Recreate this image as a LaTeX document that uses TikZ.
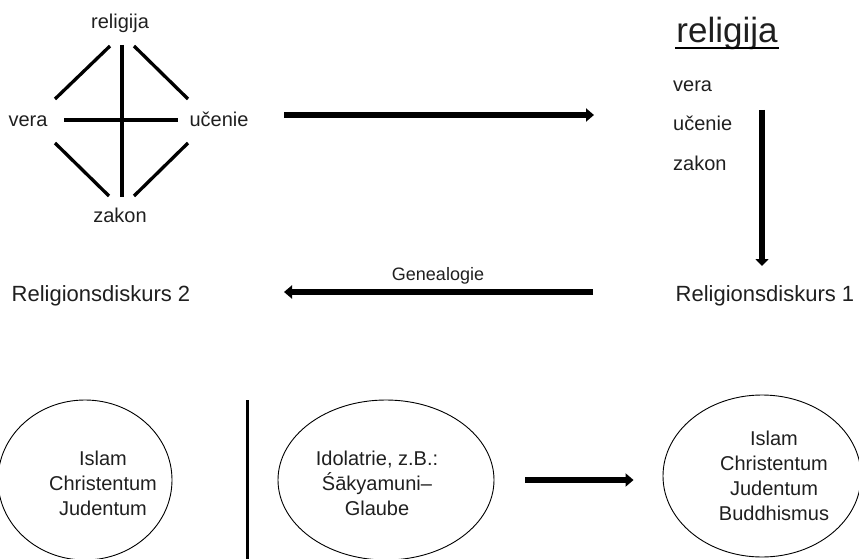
\documentclass[tikz,border=0pt]{standalone}
\usepackage{fontspec}
\setmainfont{Liberation Sans}
\usetikzlibrary{arrows.meta,shapes.geometric}
\begin{document}
\begin{tikzpicture}[x=1pt,y=-1pt,
  lbl/.style={font=\fontsize{20}{25}\selectfont, inner sep=0pt, anchor=base, text=black!88},
  big/.style={font=\fontsize{22}{26}\selectfont, inner sep=0pt, anchor=base, text=black!88},
  dline/.style={line width=3.3pt},
  bigarrow/.style={line width=6pt, -{Triangle[length=8pt,width=13pt]}},
  ell/.style={draw, ellipse, line width=0.9pt, inner sep=0pt}
]
\useasboundingbox (0,0) rectangle (859,559);

% left diamond
\node[lbl] (rel) at (120,29) {religija};
\node[lbl] (lvera) at (28,127) {vera};
\node[lbl] (lucenie) at (219,127) {učenie};
\node[lbl] (lzakon) at (120,222) {zakon};
\coordinate (ul1) at (110,46); \coordinate (ul2) at (55,99);
\coordinate (ur1) at (134,46); \coordinate (ur2) at (188,99);
\coordinate (ll1) at (55,143); \coordinate (ll2) at (109,196);
\coordinate (lr1) at (188,143); \coordinate (lr2) at (134,196);
\coordinate (vt) at (122,45); \coordinate (vb) at (122,197);
\coordinate (hl) at (64,120); \coordinate (hr) at (178,120);
\draw[dline] (ul1) -- (ul2);
\draw[dline] (ur1) -- (ur2);
\draw[dline] (ll1) -- (ll2);
\draw[dline] (lr1) -- (lr2);
\draw[dline] (vt) -- (vb);
\draw[dline] (hl) -- (hr);

% top arrow
\coordinate (ta1) at (284,115); \coordinate (ta2) at (594,115);
\draw[bigarrow] (ta1) -- (ta2);

% right column
\node[font=\fontsize{35}{40}\selectfont, inner sep=0pt, anchor=base, text=black!88] (head) at (727,43) {religija};
\coordinate (hu1) at (675,48); \coordinate (hu2) at (779,48);
\draw[line width=2.2pt] (hu1) -- (hu2);
\node[lbl, anchor=base west] (rvera) at (673,92) {vera};
\node[lbl, anchor=base west] (rucenie) at (673,131) {učenie};
\node[lbl, anchor=base west] (rzakon) at (673,170) {zakon};
\coordinate (va1) at (762,110); \coordinate (va2) at (762,266);
\draw[line width=6pt, -{Triangle[length=7pt,width=13pt]}] (va1) -- (va2);

% middle row
\node[big] (rd2) at (101,301) {Religionsdiskurs 2};
\node[big] (rd1) at (765,301) {Religionsdiskurs 1};
\node[font=\fontsize{18}{22}\selectfont, inner sep=0pt, anchor=base, text=black!88] (gen) at (438,280) {Genealogie};
\coordinate (ga1) at (593,292); \coordinate (ga2) at (284,292);
\draw[bigarrow] (ga1) -- (ga2);

% bottom row
\node[ell, minimum width=174pt, minimum height=160pt] (e1) at (85,480) {};
\node[lbl, align=center] (t1) at (103,515) {Islam\\Christentum\\Judentum};
\coordinate (d1) at (247,400); \coordinate (d2) at (247,562);
\draw[line width=3pt] (d1) -- (d2);
\node[ell, minimum width=216pt, minimum height=160pt] (e2) at (386,480) {};
\node[lbl, align=center] (t2) at (377,515) {Idolatrie, z.B.:\\Śākyamuni–\\Glaube};
\node[ell, minimum width=198pt, minimum height=162pt] (e3) at (762,476) {};
\node[lbl, align=center] (t3) at (774,520) {Islam\\Christentum\\Judentum\\Buddhismus};
\draw[bigarrow, shorten <=31pt, shorten >=29pt] (e2.east) -- (e3.west |- e2.east);
\end{tikzpicture}
\end{document}
